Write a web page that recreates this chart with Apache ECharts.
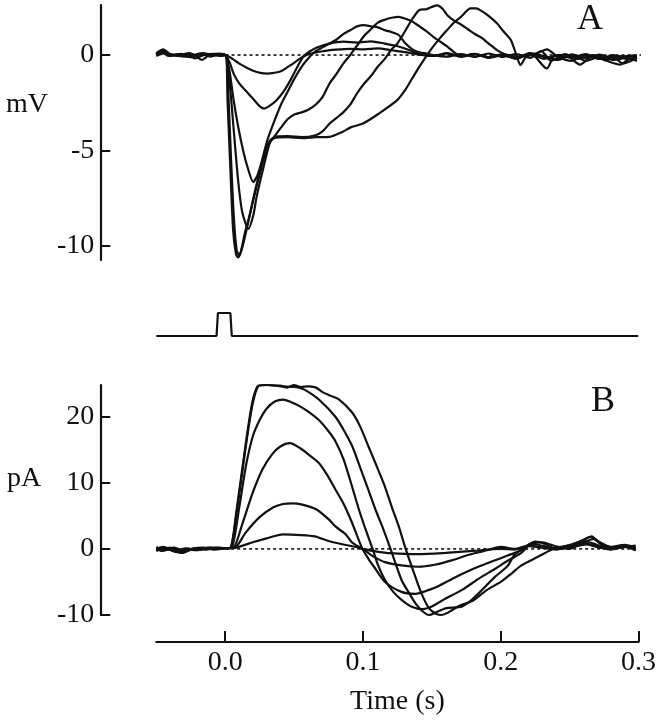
<!DOCTYPE html>
<html>
<head>
<meta charset="utf-8">
<script src="https://cdn.jsdelivr.net/npm/echarts@6/dist/echarts.min.js"></script>
<style>
html,body{margin:0;padding:0;background:#fff;}
#chart{width:659px;height:720px;}
</style>
</head>
<body>
<div id="chart"></div>
<script>
// ---- Tick values / labels ----
const timeTicks = [0, 0.1, 0.2, 0.3];
const mvTicks = [-10, -5, 0];
const paTicks = [-10, 0, 10, 20];

// ---- Panel A: membrane potential (mV) vs time (s) ----
const traceA1 = [[-0.05,0.05],[-0.046,0.25],[-0.042,0.05],[-0.035,0.0],[-0.028,0.08],[-0.022,-0.18],[-0.016,0.02],[-0.008,0.06],[-0.003,-0.05],[0,0],[0.005,-0.2],[0.01,-0.45],[0.015,-0.65],[0.02,-0.82],[0.025,-0.93],[0.03,-0.97],[0.035,-0.93],[0.04,-0.85],[0.045,-0.62],[0.05,-0.38],[0.055,-0.12],[0.06,0.05],[0.07,0.2],[0.08,0.28],[0.09,0.32],[0.1,0.3],[0.11,0.35],[0.12,0.25],[0.13,0.15],[0.14,0.02],[0.15,-0.05],[0.16,0.08],[0.17,-0.06],[0.18,0.06],[0.19,-0.12],[0.2,0.0],[0.21,-0.18],[0.22,0.06],[0.23,-0.05],[0.24,-0.22],[0.25,0.04],[0.26,-0.15],[0.27,0.02],[0.28,-0.2],[0.29,-0.05],[0.297,-0.02]];
const traceA2 = [[-0.05,0.0],[-0.045,0.18],[-0.04,-0.05],[-0.032,0.06],[-0.025,-0.12],[-0.018,0.05],[-0.01,-0.04],[-0.004,0.05],[0,0],[0.003,-0.4],[0.006,-1.0],[0.01,-1.5],[0.015,-1.9],[0.02,-2.3],[0.025,-2.7],[0.028,-2.8],[0.032,-2.65],[0.037,-2.35],[0.042,-1.9],[0.047,-1.3],[0.052,-0.6],[0.056,-0.1],[0.061,0.2],[0.066,0.4],[0.075,0.6],[0.085,0.7],[0.095,0.65],[0.105,0.72],[0.115,0.6],[0.125,0.45],[0.133,0.25],[0.14,0.05],[0.15,-0.05],[0.16,0.1],[0.17,-0.1],[0.18,0.05],[0.19,-0.15],[0.2,0.0],[0.21,-0.2],[0.22,0.1],[0.23,-0.1],[0.24,-0.25],[0.25,0.0],[0.26,-0.3],[0.27,-0.1],[0.28,-0.25],[0.29,-0.15],[0.297,-0.3]];
const traceA3 = [[-0.05,-0.05],[-0.044,0.1],[-0.038,0.0],[-0.03,-0.08],[-0.024,0.05],[-0.017,-0.25],[-0.012,0.0],[-0.005,0.08],[0,0],[0.003,-0.9],[0.0055,-2.2],[0.009,-3.7],[0.0127,-5.0],[0.016,-5.9],[0.02,-6.65],[0.023,-6.3],[0.026,-5.6],[0.03,-4.5],[0.035,-3.5],[0.04,-2.6],[0.045,-1.9],[0.05,-1.2],[0.055,-0.6],[0.06,-0.15],[0.065,0.2],[0.07,0.4],[0.075,0.6],[0.08,0.8],[0.085,1.1],[0.09,1.3],[0.095,1.5],[0.1,1.57],[0.105,1.5],[0.11,1.45],[0.115,1.3],[0.12,1.2],[0.125,1.05],[0.13,0.6],[0.135,0.3],[0.14,0.15],[0.145,0.08],[0.15,0.0],[0.16,-0.08],[0.17,0.05],[0.18,-0.1],[0.19,0.08],[0.2,-0.1],[0.21,0.05],[0.22,-0.15],[0.228,0.2],[0.235,-0.3],[0.245,0.05],[0.255,-0.2],[0.265,0.0],[0.275,-0.25],[0.285,-0.05],[0.297,-0.1]];
const traceA4 = [[-0.05,0.1],[-0.045,0.3],[-0.04,0.05],[-0.033,-0.05],[-0.026,0.1],[-0.02,-0.1],[-0.013,0.05],[-0.006,0.0],[0,0],[0.003,-1.5],[0.006,-4.0],[0.009,-6.5],[0.012,-8.2],[0.0165,-9.1],[0.02,-8.4],[0.0225,-7.4],[0.027,-6.0],[0.032,-4.6],[0.036,-4.2],[0.04,-3.8],[0.045,-3.35],[0.05,-3.1],[0.055,-3.0],[0.06,-2.85],[0.065,-2.6],[0.07,-2.2],[0.075,-1.5],[0.08,-1.0],[0.085,-0.45],[0.09,0.0],[0.095,0.5],[0.1,1.0],[0.105,1.35],[0.11,1.7],[0.115,1.85],[0.12,1.95],[0.125,2.0],[0.13,1.9],[0.135,1.75],[0.14,1.5],[0.145,1.25],[0.15,0.95],[0.155,0.7],[0.16,0.45],[0.165,0.15],[0.17,-0.05],[0.18,0.05],[0.19,-0.12],[0.2,0.05],[0.21,-0.1],[0.22,0.05],[0.23,-0.2],[0.24,0.0],[0.25,-0.15],[0.26,0.05],[0.27,-0.2],[0.28,0.0],[0.29,-0.2],[0.297,-0.1]];
const traceA5 = [[-0.05,0.0],[-0.046,0.15],[-0.041,-0.05],[-0.034,0.05],[-0.027,-0.1],[-0.019,0.08],[-0.011,-0.08],[-0.005,0.04],[0,0],[0.002,-2.0],[0.004,-5.5],[0.006,-8.5],[0.008,-10.2],[0.01,-10.5],[0.012,-10.1],[0.015,-9.2],[0.018,-8.2],[0.022,-6.9],[0.027,-5.5],[0.031,-4.6],[0.035,-4.3],[0.045,-4.25],[0.055,-4.3],[0.065,-4.2],[0.07,-4.0],[0.075,-3.6],[0.08,-3.3],[0.085,-3.0],[0.09,-2.6],[0.095,-2.0],[0.1,-1.5],[0.105,-1.1],[0.11,-0.6],[0.115,-0.2],[0.12,0.3],[0.124,0.6],[0.13,1.3],[0.135,1.9],[0.14,2.36],[0.145,2.4],[0.15,2.55],[0.153,2.6],[0.157,2.4],[0.16,2.1],[0.165,1.8],[0.17,1.6],[0.175,1.35],[0.18,1.1],[0.185,0.9],[0.19,0.6],[0.196,0.26],[0.203,0.0],[0.21,-0.15],[0.22,0.1],[0.232,-0.7],[0.238,0.0],[0.248,-0.1],[0.256,-0.5],[0.265,-0.05],[0.275,-0.3],[0.285,-0.5],[0.292,-0.2],[0.297,-0.3]];
const traceA6 = [[-0.05,0.05],[-0.045,0.2],[-0.039,0.0],[-0.031,0.05],[-0.024,-0.05],[-0.017,0.1],[-0.009,0.0],[-0.004,-0.05],[0,0],[0.0015,-2.5],[0.0035,-6.0],[0.0055,-9.2],[0.0075,-10.4],[0.009,-10.6],[0.011,-10.3],[0.014,-9.3],[0.017,-8.5],[0.022,-7.0],[0.027,-5.6],[0.031,-4.7],[0.035,-4.35],[0.045,-4.3],[0.055,-4.35],[0.065,-4.3],[0.075,-4.28],[0.085,-4.0],[0.09,-3.8],[0.0996,-3.57],[0.11,-3.1],[0.124,-2.36],[0.13,-1.8],[0.135,-1.2],[0.14,-0.61],[0.148,0.26],[0.155,0.9],[0.16,1.31],[0.165,1.7],[0.17,2.0],[0.177,2.44],[0.181,2.44],[0.185,2.3],[0.189,2.1],[0.196,1.66],[0.2,1.3],[0.206,0.79],[0.21,0.0],[0.213,-0.52],[0.217,-0.1],[0.225,0.1],[0.232,0.3],[0.24,-0.1],[0.25,-0.3],[0.26,0.0],[0.27,-0.2],[0.28,-0.1],[0.287,-0.45],[0.293,-0.3],[0.297,-0.15]];

// ---- Stimulus pulse ----
const stimulus = [[-0.05,0],[-0.0065,0],[-0.0055,1],[0.0035,1],[0.0045,0],[0.298,0]];

// ---- Panel B: current (pA) vs time (s) ----
const traceB1 = [[-0.05,0.3],[-0.044,-0.2],[-0.037,0.2],[-0.03,-0.3],[-0.022,0.1],[-0.014,-0.1],[-0.006,0.2],[0,0.1],[0.004,0.2],[0.008,5],[0.012,11],[0.016,17],[0.02,22],[0.024,24.6],[0.03,24.8],[0.04,24.7],[0.045,24.4],[0.05,24.8],[0.055,24.5],[0.06,24.6],[0.066,24.4],[0.07,23.8],[0.075,23.3],[0.0827,22.6],[0.0923,20.6],[0.098,18.5],[0.104,15.5],[0.11,12.5],[0.116,9.4],[0.121,6.3],[0.126,3.4],[0.131,0],[0.138,-4.2],[0.143,-7],[0.148,-9.0],[0.153,-9.8],[0.157,-10.0],[0.162,-9.6],[0.17,-8.6],[0.18,-7.8],[0.19,-6.2],[0.2,-5.0],[0.208,-3.7],[0.215,-2.5],[0.227,-1.2],[0.235,-0.3],[0.24,0.2],[0.25,0.5],[0.258,1.0],[0.265,1.8],[0.27,1.2],[0.28,0.3],[0.29,0.6],[0.298,0.2]];
const traceB2 = [[-0.05,0.0],[-0.045,0.3],[-0.038,-0.3],[-0.031,-0.6],[-0.024,0.0],[-0.016,0.2],[-0.008,-0.1],[0,0.1],[0.004,0.2],[0.008,5.5],[0.012,11.5],[0.016,17.5],[0.02,22.5],[0.024,24.7],[0.03,24.8],[0.04,24.6],[0.05,24.5],[0.055,24.3],[0.06,23.8],[0.068,22.6],[0.08,20],[0.086,18],[0.0923,15.5],[0.098,12.3],[0.104,8.9],[0.109,6.0],[0.114,3.4],[0.12,0],[0.128,-4.7],[0.133,-6.5],[0.138,-8.2],[0.143,-9.4],[0.148,-10.0],[0.153,-9.6],[0.16,-9.0],[0.172,-8.7],[0.18,-7.5],[0.196,-4.2],[0.205,-2.6],[0.21,-0.9],[0.218,0.3],[0.225,1.1],[0.232,0.8],[0.24,0.0],[0.25,0.4],[0.26,1.4],[0.266,1.9],[0.272,0.8],[0.28,0.0],[0.29,0.4],[0.298,-0.2]];
const traceB3 = [[-0.05,-0.2],[-0.043,0.1],[-0.036,-0.4],[-0.029,0.0],[-0.021,-0.2],[-0.013,0.1],[-0.005,0.0],[0,0.1],[0.005,0.3],[0.01,6],[0.015,12.5],[0.02,17],[0.025,19.5],[0.03,21.2],[0.036,22.3],[0.042,22.6],[0.048,22.2],[0.054,21.6],[0.06,20.8],[0.068,19.5],[0.075,17.8],[0.08,16.3],[0.086,13.5],[0.092,9.5],[0.097,6.0],[0.102,2.9],[0.107,0],[0.111,-2.5],[0.116,-4.7],[0.122,-6.5],[0.128,-7.7],[0.135,-8.7],[0.143,-9.1],[0.15,-8.7],[0.16,-7.5],[0.172,-6.2],[0.184,-4.5],[0.196,-3.0],[0.205,-1.8],[0.215,-0.6],[0.222,0.8],[0.23,1.0],[0.24,0.4],[0.25,0.0],[0.26,1.0],[0.268,1.5],[0.275,0.5],[0.285,0.2],[0.298,0.5]];
const traceB4 = [[-0.05,0.1],[-0.046,-0.3],[-0.039,0.0],[-0.033,-0.5],[-0.026,-0.2],[-0.018,0.0],[-0.01,0.2],[0,0.1],[0.006,0.2],[0.012,3.5],[0.02,8.5],[0.027,12],[0.034,14.3],[0.04,15.5],[0.047,16.0],[0.054,15.3],[0.061,14.2],[0.068,13.0],[0.074,11.2],[0.08,9.0],[0.086,6.8],[0.092,4.0],[0.0996,0.0],[0.104,-1.5],[0.108,-2.7],[0.116,-5.0],[0.128,-6.5],[0.138,-6.8],[0.148,-6.2],[0.155,-5.6],[0.165,-4.5],[0.175,-3.5],[0.185,-2.6],[0.195,-1.8],[0.205,-1.0],[0.215,-0.2],[0.222,0.8],[0.23,0.5],[0.24,0.1],[0.25,0.6],[0.26,1.2],[0.27,0.6],[0.28,0.0],[0.29,0.5],[0.298,0.0]];
const traceB5 = [[-0.05,-0.3],[-0.044,0.0],[-0.036,-0.2],[-0.028,0.1],[-0.02,-0.2],[-0.012,0.2],[-0.004,0.0],[0,0.1],[0.007,0.2],[0.015,2.5],[0.025,4.8],[0.035,6.3],[0.042,6.8],[0.049,6.9],[0.056,6.7],[0.066,6.0],[0.075,4.5],[0.08,3.4],[0.0875,2.2],[0.092,1.0],[0.0996,0.0],[0.108,-1.2],[0.116,-2.0],[0.128,-2.5],[0.14,-2.7],[0.152,-2.4],[0.165,-1.7],[0.175,-1.0],[0.181,-0.65],[0.19,-0.2],[0.2,0.3],[0.21,0.0],[0.22,0.5],[0.23,0.2],[0.24,-0.1],[0.25,0.3],[0.26,0.9],[0.27,0.3],[0.28,-0.1],[0.29,0.3],[0.298,-0.2]];
const traceB6 = [[-0.05,0.1],[-0.045,-0.1],[-0.04,0.2],[-0.034,-0.3],[-0.027,0.0],[-0.019,-0.1],[-0.009,0.1],[0,0.1],[0.008,0.2],[0.02,1.0],[0.03,1.6],[0.042,2.2],[0.055,2.1],[0.065,1.9],[0.075,1.2],[0.085,0.7],[0.095,0.3],[0.0996,0.0],[0.11,-0.4],[0.12,-0.65],[0.14,-0.8],[0.16,-0.6],[0.18,-0.3],[0.2,0.0],[0.21,-0.1],[0.22,0.4],[0.235,0.1],[0.25,0.2],[0.262,0.7],[0.275,0.1],[0.288,0.4],[0.298,0.0]];

const zeroLineA = [[0,0],[0.3,0]];
const zeroLineB = [[0,0],[0.298,0]];

// ---- Build chart ----
const FONT = '"Liberation Serif", "DejaVu Serif", serif';
const INK = '#111';
const PLOT_L = 156.3, PLOT_W = 484.7;

function traceSeries(data, xi, yi) {
  return {
    type: 'line', data: data, xAxisIndex: xi, yAxisIndex: yi,
    showSymbol: false, smooth: 0.25, clip: false, silent: true,
    lineStyle: { color: INK, width: 2.2 }, z: 3
  };
}
function dotted(data, xi, yi) {
  return {
    type: 'line', data: data, xAxisIndex: xi, yAxisIndex: yi,
    showSymbol: false, silent: true, clip: false,
    lineStyle: { color: INK, width: 1.6, type: [3, 3] }, z: 2
  };
}

const hiddenX = { type: 'value', min: -0.05, max: 0.3, show: false };

const option = {
  animation: false,
  backgroundColor: '#fff',
  grid: [
    { left: PLOT_L, top: 5, width: PLOT_W, height: 255 },
    { left: PLOT_L, top: 313, width: PLOT_W, height: 23 },
    { left: PLOT_L, top: 385, width: PLOT_W, height: 230 }
  ],
  xAxis: [
    Object.assign({ gridIndex: 0 }, hiddenX),
    Object.assign({ gridIndex: 1 }, hiddenX),
    {
      gridIndex: 2, type: 'value', min: -0.05, max: 0.3, position: 'bottom', offset: 27,
      axisLine: { show: true, onZero: false, lineStyle: { color: INK, width: 2.2 } },
      axisTick: { show: true, inside: true, length: 11, customValues: timeTicks, lineStyle: { color: INK, width: 2 } },
      axisLabel: { customValues: timeTicks, formatter: v => v.toFixed(1), color: INK, fontFamily: FONT, fontSize: 28, margin: 7 },
      splitLine: { show: false },
      name: 'Time (s)', nameLocation: 'middle', nameGap: 46,
      nameTextStyle: { color: INK, fontFamily: FONT, fontSize: 28 }
    }
  ],
  yAxis: [
    {
      gridIndex: 0, type: 'value', min: -10.73, max: 2.62, offset: 56, position: 'left',
      axisLine: { show: true, onZero: false, lineStyle: { color: INK, width: 2.2 } },
      axisTick: { show: true, inside: true, length: 10, customValues: mvTicks, lineStyle: { color: INK, width: 2 } },
      axisLabel: { customValues: mvTicks, color: INK, fontFamily: FONT, fontSize: 28, margin: 6 },
      splitLine: { show: false }
    },
    { gridIndex: 1, type: 'value', min: 0, max: 1, show: false },
    {
      gridIndex: 2, type: 'value', min: -10, max: 24.8, offset: 56, position: 'left',
      axisLine: { show: true, onZero: false, lineStyle: { color: INK, width: 2.2 } },
      axisTick: { show: true, inside: true, length: 10, customValues: paTicks, lineStyle: { color: INK, width: 2 } },
      axisLabel: { customValues: paTicks, color: INK, fontFamily: FONT, fontSize: 28, margin: 6 },
      splitLine: { show: false }
    }
  ],
  graphic: [
    { type: 'text', left: 6, top: 91, style: { text: 'mV', font: '28px ' + FONT, fill: INK } },
    { type: 'text', left: 7, top: 465, style: { text: 'pA', font: '28px ' + FONT, fill: INK } },
    { type: 'text', left: 577, top: 2, style: { text: 'A', font: '36px ' + FONT, fill: INK } },
    { type: 'text', left: 591, top: 384, style: { text: 'B', font: '36px ' + FONT, fill: INK } }
  ],
  series: [
    dotted(zeroLineA, 0, 0),
    traceSeries(traceA1, 0, 0), traceSeries(traceA2, 0, 0), traceSeries(traceA3, 0, 0),
    traceSeries(traceA4, 0, 0), traceSeries(traceA5, 0, 0), traceSeries(traceA6, 0, 0),
    {
      type: 'line', data: stimulus, xAxisIndex: 1, yAxisIndex: 1, showSymbol: false,
      clip: false, silent: true, lineStyle: { color: INK, width: 2.2 }
    },
    dotted(zeroLineB, 2, 2),
    traceSeries(traceB1, 2, 2), traceSeries(traceB2, 2, 2), traceSeries(traceB3, 2, 2),
    traceSeries(traceB4, 2, 2), traceSeries(traceB5, 2, 2), traceSeries(traceB6, 2, 2)
  ]
};

const chart = echarts.init(document.getElementById('chart'), null, { renderer: 'canvas' });
chart.setOption(option);
</script>
</body>
</html>
